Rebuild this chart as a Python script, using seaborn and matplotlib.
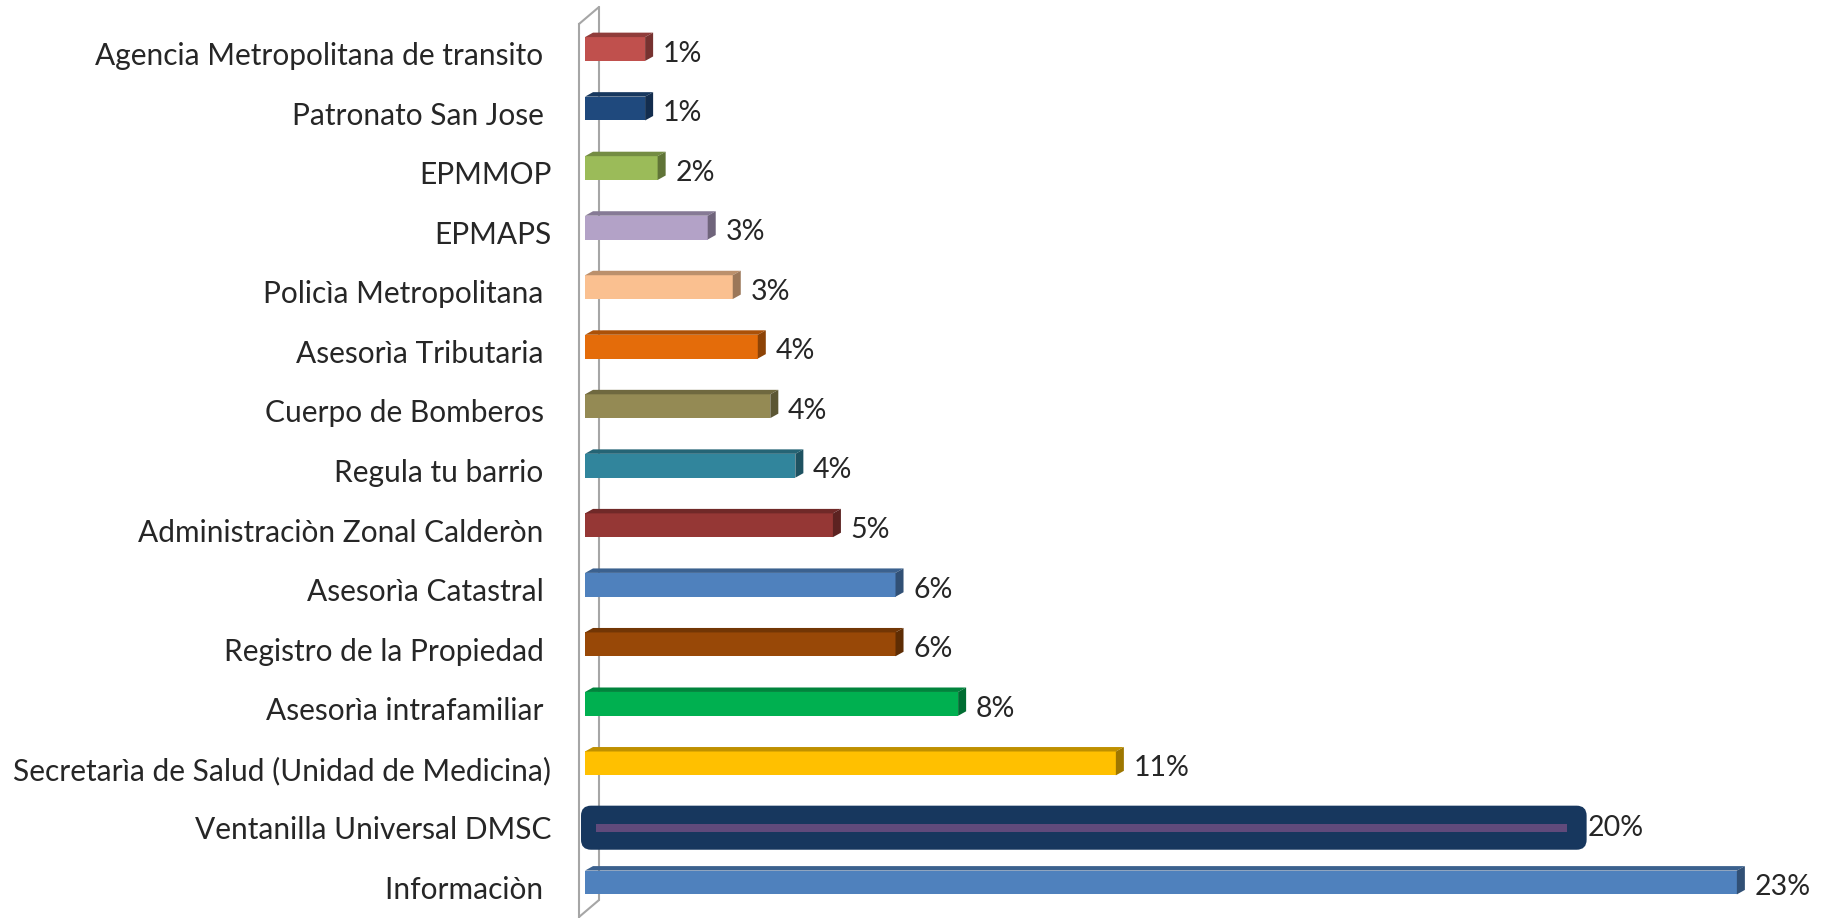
import numpy as np
import pandas as pd
import seaborn as sns
import matplotlib.pyplot as plt
from matplotlib.patches import Polygon, FancyBboxPatch, Rectangle
from matplotlib.colors import to_rgb

# data, top to bottom as in the chart
categories = [
    'Agencia Metropolitana de transito ',
    'Patronato San Jose ',
    'EPMMOP',
    'EPMAPS',
    'Policìa Metropolitana ',
    'Asesorìa Tributaria ',
    'Cuerpo de Bomberos ',
    'Regula tu barrio ',
    'Administraciòn Zonal Calderòn ',
    'Asesorìa Catastral ',
    'Registro de la Propiedad ',
    'Asesorìa intrafamiliar ',
    'Secretarìa de Salud (Unidad de Medicina)',
    'Ventanilla Universal DMSC',
    'Informaciòn ',
]
values = [1.2, 1.2, 1.45, 2.45, 2.95, 3.45, 3.7, 4.2, 4.95, 6.2, 6.2, 7.45, 10.6, 20.0, 23.0]
value_labels = ['1%', '1%', '2%', '3%', '3%', '4%', '4%', '4%', '5%', '6%', '6%', '8%', '11%', '20%', '23%']
bar_colors = ['#C0504D', '#1F497D', '#9BBB59', '#B3A2C7', '#FAC090', '#E46C0A', '#948A54',
              '#31859C', '#953735', '#4F81BD', '#984807', '#00B050', '#FFC000', '#17375E', '#4F81BD']
special_bar = 'Ventanilla Universal DMSC'
stripe_color = '#604A7B'

df = pd.DataFrame({'categoria': categories, 'valor': values})

sns.set_style("white")
plt.rcParams['font.family'] = ['Lato', 'DejaVu Sans']

W, H = 1822, 918
fig = plt.figure(figsize=(W / 100, H / 100), dpi=100)
ax = fig.add_axes([579 / W, 1 / H, (W - 579) / W, 893 / H])

sns.barplot(data=df, y='categoria', x='valor', hue='categoria', palette=bar_colors,
            orient='h', legend=False, width=0.4, saturation=1, ax=ax)

ax.set_xlim(-0.12, 24.7)
ax.set_ylim(14.5, -0.5)

# fake 3d depth in data units
dx, dy = 0.16, 0.075
axis_grey = '#A6A6A6'

for p in list(ax.patches):
    idx = int(round(p.get_y() + p.get_height() / 2))
    w = p.get_width()
    col = np.array(to_rgb(bar_colors[idx]))
    if categories[idx] == special_bar:
        p.set_visible(False)
        box = FancyBboxPatch((-0.08, idx - 0.37), w + 0.08, 0.74,
                             boxstyle='round,pad=0,rounding_size=0.2',
                             mutation_aspect=50 / 59.5, fc=col, ec='none', zorder=2)
        ax.add_patch(box)
        ax.add_patch(Rectangle((0.22, idx - 0.065), w - 0.62, 0.13, fc=stripe_color, ec='none', zorder=3))
        ax.annotate(value_labels[idx], xy=(w, idx), xytext=(1, 0), textcoords='offset points',
                    va='center', ha='left', fontsize=20.5)
        continue
    y_top = idx - 0.28
    y_bot = idx + 0.12
    p.set_y(y_top)
    p.set_height(0.4)
    p.set_edgecolor('none')
    p.set_zorder(2)
    top = Polygon([(0, y_top), (w, y_top), (w + dx, y_top - dy), (dx, y_top - dy)],
                  closed=True, fc=col * 0.75, ec='none', zorder=2)
    side = Polygon([(w, y_top), (w + dx, y_top - dy), (w + dx, y_bot - dy), (w, y_bot)],
                   closed=True, fc=col * 0.62, ec='none', zorder=2)
    ax.add_patch(top)
    ax.add_patch(side)
    ax.annotate(value_labels[idx], xy=(w + dx, idx), xytext=(7, 0), textcoords='offset points',
                va='center', ha='left', fontsize=20.5)

# axis wall
back_x = 0.28
lift = 17 / 59.5
ax.plot([back_x, back_x], [-0.5 - lift, 14.5 - lift], color=axis_grey, lw=1.5, clip_on=False, zorder=0.5)
ax.plot([-0.12, back_x], [-0.5, -0.5 - lift], color=axis_grey, lw=1.5, clip_on=False, zorder=0.5)
ax.plot([-0.12, back_x], [14.5, 14.5 - lift], color=axis_grey, lw=1.5, clip_on=False, zorder=0.5)

for s in ['top', 'right', 'bottom']:
    ax.spines[s].set_visible(False)
ax.spines['left'].set_color(axis_grey)
ax.spines['left'].set_linewidth(1.5)

ax.set_xticks([])
ax.set_yticks(np.arange(-0.5, 15, 1), minor=True)
ax.tick_params(axis='y', which='major', length=0, pad=20, labelsize=21.5)
ax.tick_params(axis='y', which='minor', length=6.5, width=1.5, color=axis_grey)
ax.set_xlabel('')
ax.set_ylabel('')

fig.savefig('out.png', dpi=100)
